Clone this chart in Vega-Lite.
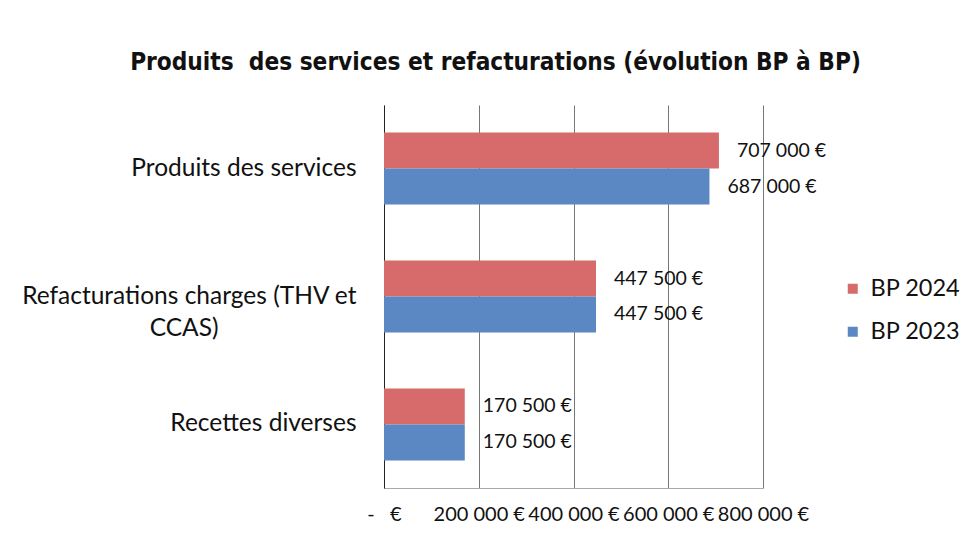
{
  "$schema": "https://vega.github.io/schema/vega-lite/v6.json",
  "width": 379,
  "height": 383,
  "autosize": {"type": "none"},
  "padding": {"left": 384, "top": 105, "right": 208, "bottom": 45},
  "background": "white",
  "config": {
    "locale": {"number": {"decimal": ",", "thousands": " ", "grouping": [3], "currency": ["", " €"]}},
    "view": {"stroke": null},
    "font": "Lato"
  },
  "title": {
    "text": "Produits\u00a0 des services et refacturations (évolution BP à BP)",
    "font": "DejaVu Sans Condensed, DejaVu Sans",
    "fontSize": 24.2,
    "fontWeight": "bold",
    "color": "#111",
    "anchor": "middle",
    "dx": -78,
    "offset": 30
  },
  "data": {
    "values": [
      {"categorie": "Produits des services", "serie": "BP 2024", "montant": 707000},
      {"categorie": "Produits des services", "serie": "BP 2023", "montant": 687000},
      {"categorie": "Refacturations charges (THV et CCAS)", "serie": "BP 2024", "montant": 447500},
      {"categorie": "Refacturations charges (THV et CCAS)", "serie": "BP 2023", "montant": 447500},
      {"categorie": "Recettes diverses", "serie": "BP 2024", "montant": 170500},
      {"categorie": "Recettes diverses", "serie": "BP 2023", "montant": 170500}
    ]
  },
  "encoding": {
    "y": {
      "field": "categorie",
      "type": "nominal",
      "sort": ["Produits des services", "Refacturations charges (THV et CCAS)", "Recettes diverses"],
      "scale": {"paddingInner": 0.4375, "paddingOuter": 0.215},
      "axis": {
        "title": null,
        "domain": true,
        "domainColor": "#222",
        "ticks": false,
        "labelFont": "Lato",
        "labelFontSize": 24.5,
        "labelColor": "#111",
        "labelPadding": 28,
        "labelLineHeight": 32,
        "labelLimit": 400,
        "labelExpr": "datum.value == 'Refacturations charges (THV et CCAS)' ? ['Refacturations charges (THV et', 'CCAS)\u00a0\u00a0\u00a0\u00a0\u00a0\u00a0\u00a0\u00a0\u00a0\u00a0\u00a0\u00a0\u00a0\u00a0\u00a0\u00a0\u00a0\u00a0\u00a0\u00a0\u00a0\u00a0\u200b'] : datum.label"
      }
    },
    "yOffset": {"field": "serie", "type": "nominal", "sort": ["BP 2024", "BP 2023"], "scale": {"paddingInner": 0, "paddingOuter": 0}},
    "x": {
      "field": "montant",
      "type": "quantitative",
      "scale": {"domain": [0, 800000], "nice": false},
      "axis": {
        "title": null,
        "values": [0, 200000, 400000, 600000, 800000],
        "grid": true,
        "gridColor": "#777",
        "domain": true,
        "domainColor": "#aaa",
        "ticks": false,
        "labelFont": "Lato",
        "labelFontSize": 20,
        "labelColor": "#111",
        "labelPadding": 16,
        "labelFlush": false,
        "labelOverlap": false,
        "labelExpr": "datum.value == 0 ? '-\u00a0\u00a0\u00a0€' : format(datum.value, '$,d')"
      }
    }
  },
  "layer": [
    {
      "mark": {"type": "bar"},
      "encoding": {
        "color": {
          "field": "serie",
          "type": "nominal",
          "scale": {"domain": ["BP 2024", "BP 2023"], "range": ["#d76b6b", "#5b87c2"]},
          "legend": {
            "title": null,
            "orient": "none",
            "legendX": 457,
            "legendY": 172,
            "symbolType": "square",
            "symbolSize": 100,
            "symbolStrokeWidth": 0,
            "labelFont": "Lato",
            "labelFontSize": 23.5,
            "labelColor": "#111",
            "labelOffset": 6,
            "rowPadding": 18
          }
        }
      }
    },
    {
      "mark": {"type": "text", "align": "left", "dx": 18, "fontSize": 19.5, "font": "Lato", "color": "#111"},
      "encoding": {
        "text": {"field": "montant", "type": "quantitative", "format": "$,d"}
      }
    }
  ]
}
